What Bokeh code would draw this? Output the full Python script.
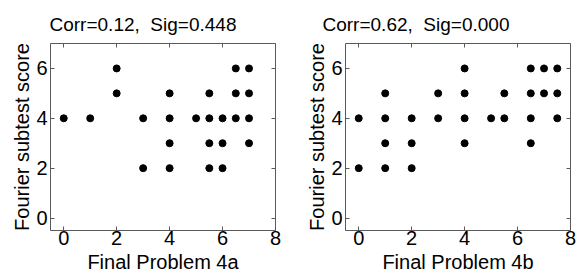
from bokeh.plotting import figure
from bokeh.layouts import row
from bokeh.models import FixedTicker, LinearAxis, Range1d, CustomJSTickFormatter
from bokeh.embed import file_html
from bokeh.resources import INLINE

# Panel (a)
xa = [0, 1, 2, 2, 3, 3, 4, 4, 4, 4, 5, 5.5, 5.5, 5.5, 5.5, 6, 6, 6, 6.5, 6.5, 6.5, 7, 7, 7, 7]
ya = [4, 4, 5, 6, 2, 4, 2, 3, 4, 5, 4, 2, 3, 4, 5, 2, 3, 4, 4, 5, 6, 3, 4, 5, 6]
title_a = "Corr=0.12,  Sig=0.448"
xlabel_a = "Final Problem 4a"

# Panel (b)
xb = [0, 0, 1, 1, 1, 1, 2, 2, 2, 3, 3, 4, 4, 4, 4, 5, 5.5, 5.5, 6.5, 6.5, 6.5, 6.5, 7, 7, 7.5, 7.5, 7.5]
yb = [2, 4, 2, 3, 4, 5, 2, 3, 4, 4, 5, 3, 4, 5, 6, 4, 4, 5, 3, 4, 5, 6, 5, 6, 4, 5, 6]
title_b = "Corr=0.62,  Sig=0.000"
xlabel_b = "Final Problem 4b"

ylabel = "Fourier subtest score"
xticks = [0, 2, 4, 6, 8]
yticks = [0, 2, 4, 6]

FONT = "Liberation Sans"
FS = "20px"
TFS = "19px"
FRAME = "#5a5a5a"


def make(xs, ys, title, xlabel, left, right, title_offset):
    p = figure(frame_width=225, frame_height=187, output_backend="svg", toolbar_location=None,
               x_range=Range1d(-0.5, 8), y_range=Range1d(-0.5, 7),
               min_border_left=left, min_border_right=right,
               min_border_top=43, min_border_bottom=48)
    p.title.text = title.replace("  ", "\u00a0 ")
    p.title.text_font = FONT
    p.title.text_font_size = TFS
    p.title.text_font_style = "normal"
    p.title.text_color = "black"
    p.title.align = "left"
    p.title.offset = title_offset
    p.title.standoff = 18
    p.grid.visible = False
    p.outline_line_color = FRAME
    p.outline_line_width = 1
    p.outline_line_alpha = 1
    for ax in (p.xaxis[0], p.yaxis[0]):
        ax.axis_line_color = None
        ax.major_tick_in = 4
        ax.major_tick_out = 0
        ax.minor_tick_line_color = None
        ax.major_tick_line_color = FRAME
        ax.major_label_text_font = FONT
        ax.major_label_text_font_size = FS
        ax.major_label_text_color = "black"
        ax.axis_label_text_font = FONT
        ax.axis_label_text_font_size = FS
        ax.axis_label_text_font_style = "normal"
        ax.axis_label_text_color = "black"
    p.xaxis[0].major_label_standoff = 0
    p.xaxis[0].axis_label_standoff = 3
    p.yaxis[0].major_label_standoff = 3
    p.yaxis[0].axis_label_standoff = 0
    p.xaxis[0].ticker = FixedTicker(ticks=xticks)
    p.yaxis[0].ticker = FixedTicker(ticks=yticks)
    p.xaxis[0].axis_label = xlabel
    p.yaxis[0].axis_label = ylabel
    # inside ticks on top and right edges (no labels)
    top = LinearAxis(ticker=FixedTicker(ticks=xticks))
    rgt = LinearAxis(ticker=FixedTicker(ticks=yticks))
    for ax in (top, rgt):
        ax.axis_line_color = None
        ax.major_tick_in = 4
        ax.major_tick_out = 0
        ax.minor_tick_line_color = None
        ax.major_tick_line_color = FRAME
        ax.formatter = CustomJSTickFormatter(code="return ''")
        ax.major_label_standoff = 0
    p.add_layout(top, "above")
    p.add_layout(rgt, "right")
    p.scatter(xs, ys, size=7, color="black", marker="circle")
    return p


pa = make(xa, ya, title_a, xlabel_a, 50, 16, -1)
pb = make(xb, yb, title_b, xlabel_b, 54, 6, -23)
layout = row(pa, pb)

open("out.html", "w").write(file_html(layout, INLINE))
